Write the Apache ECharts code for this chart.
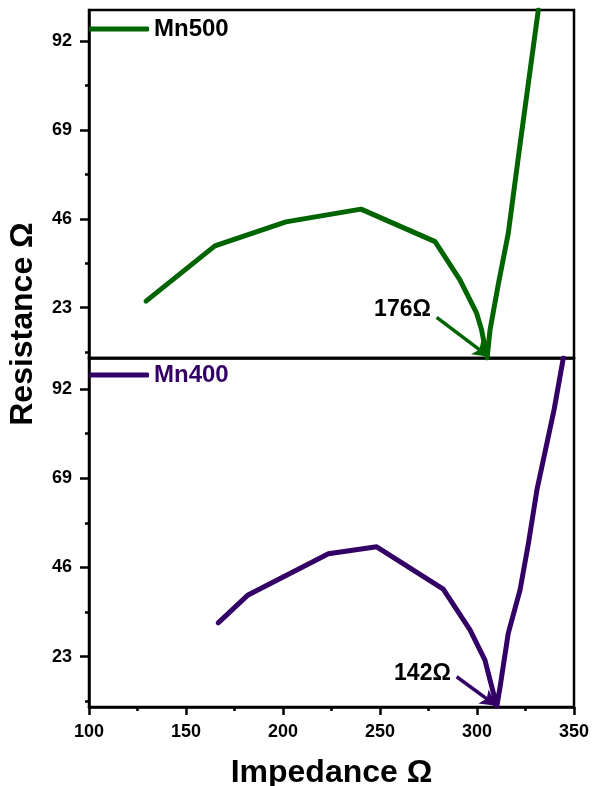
<!DOCTYPE html>
<html>
<head>
<meta charset="utf-8">
<title>Mn500 / Mn400</title>
<script src="https://cdn.jsdelivr.net/npm/echarts@6/dist/echarts.min.js"></script>
<style>
    html, body { margin: 0; padding: 0; background: #fff; }
    #chart { width: 592px; height: 786px; }
</style>
</head>
<body>
<div id="chart"></div>
<script>
    // Mn500 (top panel)
    const mn500Impedance = [129.4, 164.9, 201.5, 240.2, 278.4, 291.2, 299.8, 302.4, 305.2, 306.7, 311.0, 316.1, 321.8, 331.6]
    const mn500Resistance = [24.7, 39.0, 45.2, 48.5, 40.1, 30.2, 21.6, 17.2, 10.0, 17.2, 29.1, 42.2, 63.8, 100.0]

    // Mn400 (bottom panel)
    const mn400Impedance = [166.6, 182.0, 223.4, 248.3, 282.6, 296.4, 304.1, 306.7, 310.2, 311.9, 316.1, 322.2, 326.5, 330.9, 339.7, 344.5]
    const mn400Resistance = [31.7, 38.9, 49.5, 51.3, 40.4, 29.9, 22.1, 17.0, 10.2, 15.2, 29.0, 40.2, 52.2, 66.0, 86.6, 100.0]

    const yTicks = [23, 46, 69, 92]
    const yMinorTicks = [11.5, 34.5, 57.5, 80.5]

    // annotations: label position, arrow start, arrow tip
    const mn500Note = { text: '176Ω', at: [261.6, 22.6], from: [279.2, 20.5], to: [306.2, 10.3] }
    const mn400Note = { text: '142Ω', at: [271.9, 18.6], from: [289.5, 17.8], to: [310.0, 10.3] }

    const green = '#006400'
    const purple = '#330066'
    const font = "'Liberation Sans', Arial, sans-serif"

    const chart = echarts.init(document.getElementById('chart'))

    function mainY (gridIndex) {
        return {
            type: 'value',
            gridIndex,
            min: 10,
            max: 100,
            splitLine: { show: false },
            axisLine: { show: true, lineStyle: { color: '#000', width: 2.5 } },
            axisTick: { show: true, customValues: yTicks, length: 9, lineStyle: { color: '#000', width: 2.5 } },
            axisLabel: {
                customValues: yTicks,
                margin: 17,
                color: '#000',
                fontSize: 18,
                fontWeight: 'bold',
                fontFamily: font
            }
        }
    }

    function minorY (gridIndex) {
        return {
            type: 'value',
            gridIndex,
            min: 10,
            max: 100,
            position: 'left',
            splitLine: { show: false },
            axisLine: { show: false },
            axisTick: { show: true, customValues: yMinorTicks, length: 4, lineStyle: { color: '#000', width: 2.5 } },
            axisLabel: { show: false }
        }
    }

    function note (n, color) {
        return {
            markLine: {
                silent: true,
                animation: false,
                symbol: ['none', 'arrow'],
                symbolSize: [13, 16],
                label: { show: false },
                lineStyle: { color, width: 3.5, type: 'solid' },
                data: [[{ coord: n.from }, { coord: n.to }]]
            },
            markPoint: {
                silent: true,
                animation: false,
                symbol: 'circle',
                symbolSize: 1,
                itemStyle: { color: 'transparent' },
                label: {
                    show: true,
                    position: 'inside',
                    formatter: n.text,
                    color: '#000',
                    fontSize: 23,
                    fontWeight: 'bold',
                    fontFamily: font
                },
                data: [{ coord: n.at }]
            }
        }
    }

    const option = {
        animation: false,
        backgroundColor: '#fff',
        grid: [
            { left: 89, top: 10, width: 485, height: 348, outerBoundsMode: 'none', containLabel: false, show: true, borderColor: '#000', borderWidth: 2.5 },
            { left: 89, top: 358, width: 485, height: 349, outerBoundsMode: 'none', containLabel: false, show: true, borderColor: '#000', borderWidth: 2.5 }
        ],
        legend: [
            {
                data: ['Mn500'],
                left: 89,
                top: 17,
                padding: 0,
                icon: 'roundRect',
                itemWidth: 60,
                itemHeight: 5,
                textStyle: { color: '#000', fontSize: 24, fontWeight: 'bold', fontFamily: font }
            },
            {
                data: ['Mn400'],
                left: 89,
                top: 363,
                padding: 0,
                icon: 'roundRect',
                itemWidth: 60,
                itemHeight: 5,
                textStyle: { color: purple, fontSize: 24, fontWeight: 'bold', fontFamily: font }
            }
        ],
        xAxis: [
            {
                type: 'value',
                gridIndex: 0,
                min: 100,
                max: 350,
                interval: 50,
                splitLine: { show: false },
                axisLine: { show: true, lineStyle: { color: '#000', width: 2.5 } },
                axisTick: { show: false },
                axisLabel: { show: false }
            },
            {
                type: 'value',
                gridIndex: 1,
                min: 100,
                max: 350,
                interval: 50,
                name: 'Impedance Ω',
                nameLocation: 'middle',
                nameGap: 50,
                nameTextStyle: { color: '#000', fontSize: 32, fontWeight: 'bold', fontFamily: font },
                splitLine: { show: false },
                axisLine: { show: true, lineStyle: { color: '#000', width: 2.5 } },
                axisTick: { show: true, length: 8, lineStyle: { color: '#000', width: 2.5 } },
                minorTick: { show: true, splitNumber: 2, length: 4, lineStyle: { color: '#000', width: 2.5 } },
                axisLabel: {
                    margin: 16,
                    color: '#000',
                    fontSize: 18,
                    fontWeight: 'bold',
                    fontFamily: font
                }
            }
        ],
        yAxis: [mainY(0), minorY(0), mainY(1), minorY(1)],
        graphic: [
            {
                type: 'text',
                x: 23,
                y: 324,
                rotation: Math.PI / 2,
                style: {
                    text: 'Resistance Ω',
                    fill: '#000',
                    font: 'bold 32px ' + font,
                    textAlign: 'center',
                    textVerticalAlign: 'middle'
                }
            }
        ],
        series: [
            Object.assign({
                name: 'Mn500',
                type: 'line',
                xAxisIndex: 0,
                yAxisIndex: 0,
                showSymbol: false,
                symbol: 'none',
                clip: true,
                color: green,
                lineStyle: { color: green, width: 5, cap: 'round', join: 'round' },
                data: mn500Impedance.map((x, i) => [x, mn500Resistance[i]])
            }, note(mn500Note, green)),
            Object.assign({
                name: 'Mn400',
                type: 'line',
                xAxisIndex: 1,
                yAxisIndex: 2,
                showSymbol: false,
                symbol: 'none',
                clip: true,
                color: purple,
                lineStyle: { color: purple, width: 5, cap: 'round', join: 'round' },
                data: mn400Impedance.map((x, i) => [x, mn400Resistance[i]])
            }, note(mn400Note, purple))
        ]
    }

    chart.setOption(option)
</script>
</body>
</html>
